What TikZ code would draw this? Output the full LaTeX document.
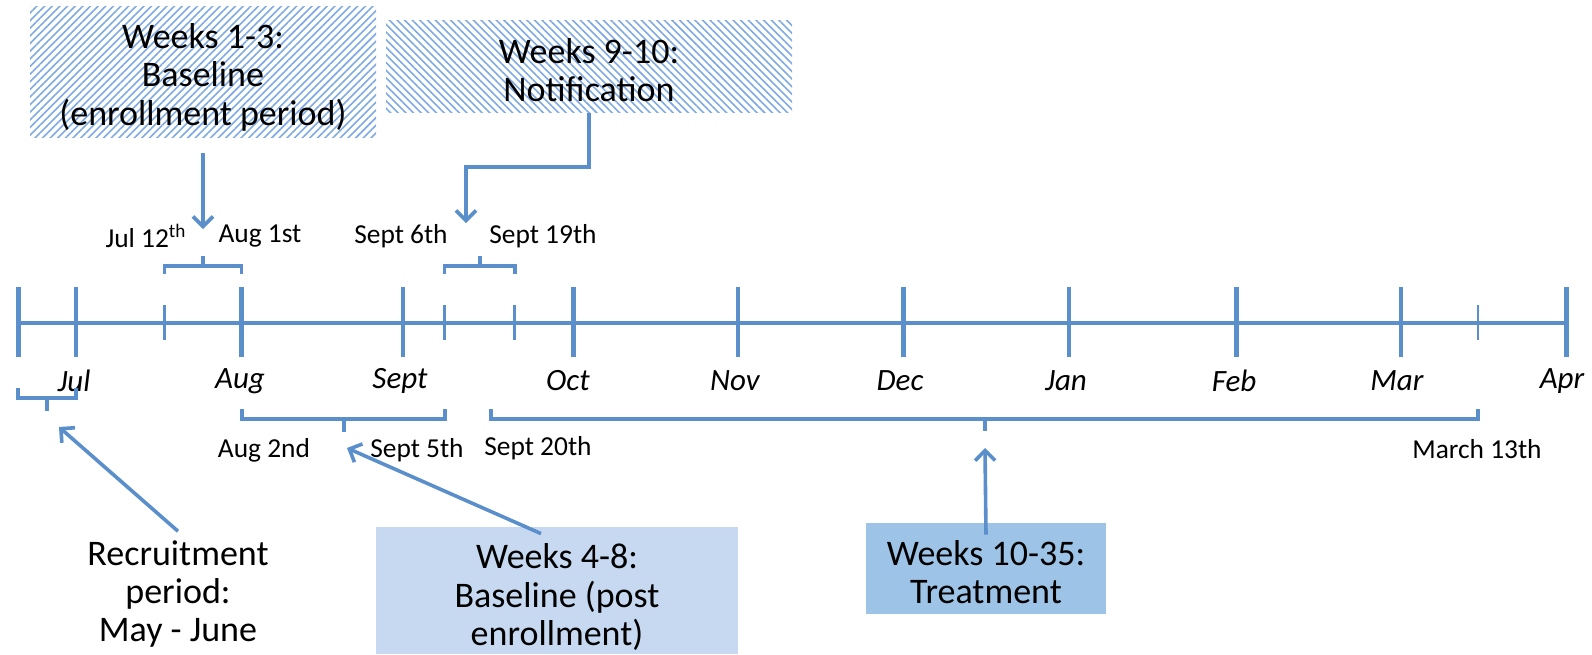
\documentclass[tikz,border=0pt]{standalone}
\usepackage{fontspec}
\setmainfont{Carlito}
\usetikzlibrary{arrows.meta,patterns.meta,calc}
\definecolor{tlblue}{HTML}{5B8FCB}
\definecolor{hatchblue}{HTML}{7FAAE2}
\definecolor{paleblue}{HTML}{C6D9F1}
\definecolor{midblue}{HTML}{9DC3E6}
\tikzset{
  axisline/.style={line width=2pt, color=tlblue},
  majortick/.style={line width=2.2pt, color=tlblue},
  minortick/.style={line width=1.4pt, color=tlblue},
  brace/.style={line width=1.7pt, color=tlblue},
  pointer/.style={line width=1.8pt, color=tlblue, -{Straight Barb[length=5pt,width=10pt]}},
  monthlabel/.style={font=\fontsize{15.5}{18}\selectfont\itshape},
  datelabel/.style={font=\fontsize{13.7}{16}\selectfont},
  boxtext/.style={font=\fontsize{18}{19.2}\selectfont, align=center},
  hatchbox/.style={pattern color=hatchblue},
}
\begin{document}
\begin{tikzpicture}[x=0.5pt,y=-0.5pt]
			\useasboundingbox (0,0) rectangle (1592,654);
			
			%%%%% timeline %%%%%
			\draw[axisline] (18,323) -- (1567,323);
			\foreach \x in {18.3,76,241.6,403,573.6,738,903.6,1069,1236.6,1401,1566.6}
				\draw[majortick] (\x,287) -- (\x,357);
			\foreach \x in {164.5,444.7,514.8,1478}
				\draw[minortick] (\x,305) -- (\x,340);
			
			\foreach \x/\m in {74/Jul,240/Aug,400/Sept,568/Oct,735/Nov,900/Dec,1066/Jan,1234/Feb,1397/Mar,1562/Apr}
				\node[monthlabel] (m\m) at (\x,381) {\m};
			
			%%%%% boxes %%%%%
			\node[hatchbox, pattern={Lines[angle=45,distance=2.7pt,line width=0.8pt]},
				minimum width=173pt, minimum height=65.5pt] (base1) at (203,71.5) {};
			\node[boxtext] (base1txt) at (203,77) {Weeks 1-3:\\Baseline\\(enrollment period)};
			\node[hatchbox, pattern={Lines[angle=-45,distance=2.7pt,line width=0.8pt]},
				minimum width=203pt, minimum height=46pt] (notif) at (589,66) {};
			\node[boxtext] (notiftxt) at (589,70) {Weeks 9-10:\\Notification};
			\node[fill=paleblue, minimum width=181pt, minimum height=63.5pt] (base2) at (557,590.5) {};
			\node[boxtext] (base2txt) at (557,597) {Weeks 4-8:\\Baseline (post\\enrollment)};
			\node[fill=midblue, minimum width=120pt, minimum height=45.5pt] (treat) at (986,568.5) {};
			\node[boxtext] (treattxt) at (986,572) {Weeks 10-35:\\Treatment};
			\node[boxtext] (recruit) at (178,594) {Recruitment\\period:\\May - June};
			
			%%%%% dates %%%%%
			\node[datelabel] (jul12) at (146,236) {Jul 12\textsuperscript{th}};
			\node[datelabel] (aug1) at (260,236) {Aug 1st};
			\node[datelabel] (sep6) at (401,236) {Sept 6th};
			\node[datelabel] (sep19) at (543,236) {Sept 19th};
			\node[datelabel] (aug2) at (264,450) {Aug 2nd};
			\node[datelabel] (sep5) at (417,450) {Sept 5th};
			\node[datelabel] (sep20) at (538,448) {Sept 20th};
			\node[datelabel] (mar13) at (1477,449) {March 13th};
			
			%%%%% brackets %%%%%
			\draw[brace] (164.5,274) -- (164.5,266) -- (241.6,266) -- (241.6,274);
			\draw[brace] (203,266) -- (203,256);
			\draw[brace] (444.7,274) -- (444.7,266) -- (514.8,266) -- (514.8,274);
			\draw[brace] (480,266) -- (480,256);
			
			\draw[brace] (18,388) -- (18,398) -- (76,398) -- (76,388);
			\draw[brace] (47,398) -- (47,411);
			\draw[brace] (242,409) -- (242,419) -- (445,419) -- (445,409);
			\draw[brace] (344,419) -- (344,432);
			\draw[brace] (491,409) -- (491,419) -- (1478,419) -- (1478,409);
			\draw[brace] (985,419) -- (985,431);
			
			%%%%% arrows %%%%%
			\coordinate (tipA) at (203,229);
			\coordinate (tipB) at (466,223);
			\coordinate (tipC) at (59,427);
			\coordinate (tipD) at (347,448);
			\coordinate (tipE) at (985,448);
			
			\draw[pointer] ([yshift=-7.5pt]base1.south) -- (tipA);
			\draw[pointer] (notif.south) |- (466,167) -- (tipB);
			\draw[pointer] ([yshift=1pt]recruit.north) -- (tipC);
			\draw[pointer] ($(base2.north)+(-16,7)$) -- (tipD);
			\draw[pointer] ($(treat.north)+(0,12)$) -- (tipE);
			
		\end{tikzpicture}
\end{document}
